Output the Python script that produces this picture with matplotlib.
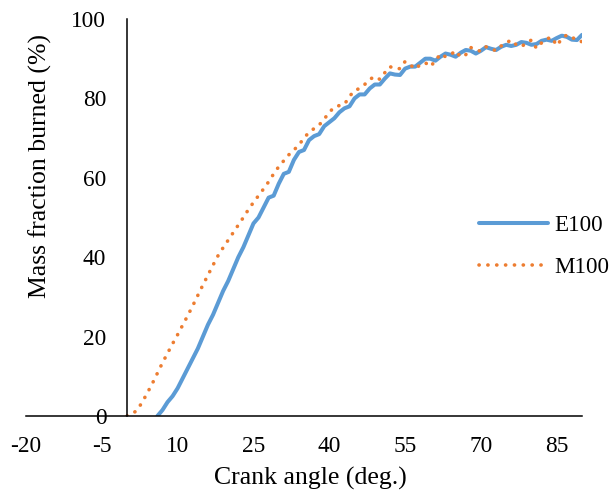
import matplotlib
matplotlib.use("Agg")
import matplotlib.pyplot as plt

plt.rcParams['font.family'] = ['Liberation Serif', 'DejaVu Serif']
plt.rcParams['axes.unicode_minus'] = False

e100_x = list(range(6, 91))
e100_y = [0, 1.5, 3.5, 5, 7, 9.5, 12, 14.5, 17, 20, 23, 25.5, 28.5, 31.5, 34, 37, 40, 42.5,
          45.5, 48.5, 50, 52.5, 55, 55.5, 58.5, 61, 61.5, 64.5, 66.5, 67, 69.5, 70.5, 71,
          73, 74, 75, 76.5, 77.5, 78, 80, 81, 81, 82.5, 83.5, 83.5, 85, 86.3, 86, 85.9,
          87.5, 88, 88, 89, 90, 90, 89.5, 90.5, 91.3, 91, 90.5, 91.5, 92.2, 92, 91.3, 92,
          92.9, 92.5, 92.2, 93, 93.5, 93.2, 93.5, 94.2, 94, 93.5, 93.7, 94.5, 94.8, 94.5,
          95.2, 95.8, 95.5, 94.8, 94.7, 96]

m100_x = list(range(0, 91))
m100_y = [0, 0.5, 1.5, 3.5, 5.8, 8.2, 10.8, 13.4, 15.8, 18.2, 20.5, 22.9, 25.3, 27.8, 30.4,
          33, 35.5, 38, 40.4, 42.4, 44.3, 46.2, 48.1, 50, 52, 53.8, 55.5, 57.2, 59, 61,
          62.8, 64.3, 65.8, 67, 68.3, 70, 71.5, 72.4, 73.3, 74.8, 76.5, 77.8, 78.2, 78.5,
          80.5, 82, 82.5, 83.5, 84.8, 85.5, 84.8, 86.5, 88, 87.5, 87.5, 89.3, 88.5, 87.4,
          88.5, 89, 88, 89.5, 91.2, 90.5, 91, 92, 90.4, 91, 92.8, 92.4, 91.8, 93, 92.5, 92,
          93.2, 94, 94.7, 93.5, 93, 94, 94.7, 92.6, 94, 95, 95.4, 93.3, 95, 96, 95.5, 94.5,
          94.3]

x_ticks = [-20, -5, 10, 25, 40, 55, 70, 85]
y_ticks = [0, 20, 40, 60, 80, 100]

fig = plt.figure(figsize=(6.13, 4.95), dpi=100)
ax = fig.add_axes([26/613, 1-416/495, (582-26)/613, (416-19)/495])

ax.plot(e100_x, e100_y, color='#5B9BD5', lw=2.9, label='E100', solid_capstyle='round')
ax.plot(m100_x, m100_y, color='#ED7D31', lw=2.6, linestyle=(0, (0.05, 2.4)),
        dash_capstyle='round', label='M100')

ax.set_xlim(-20, 90)
ax.set_ylim(0, 100)
ax.set_xticks(x_ticks)
ax.set_yticks(y_ticks)
ax.spines['top'].set_visible(False)
ax.spines['right'].set_visible(False)
ax.spines['left'].set_position(('data', 0))
for s in ('left', 'bottom'):
    ax.spines[s].set_linewidth(1.1)
    ax.spines[s].set_color('black')
ax.tick_params(axis='both', length=0, labelsize=16.8)
ax.tick_params(axis='x', pad=14.5)
ax.tick_params(axis='y', pad=15)

fig.text(40/613, 1-166/495, 'Mass fraction burned (%)', rotation=90, fontsize=18.5,
         ha='center', va='center')
fig.text(310/613, 1-478/495, 'Crank angle (deg.)', fontsize=18.5, ha='center', va='center')

ax.legend(loc='center left', bbox_to_anchor=(479/613, 1-246.5/495),
          bbox_transform=fig.transFigure, frameon=False, fontsize=16.6,
          handlelength=3.0, handletextpad=0.27, labelspacing=0.9,
          borderpad=0, borderaxespad=0)

fig.savefig('out.png', dpi=100)
